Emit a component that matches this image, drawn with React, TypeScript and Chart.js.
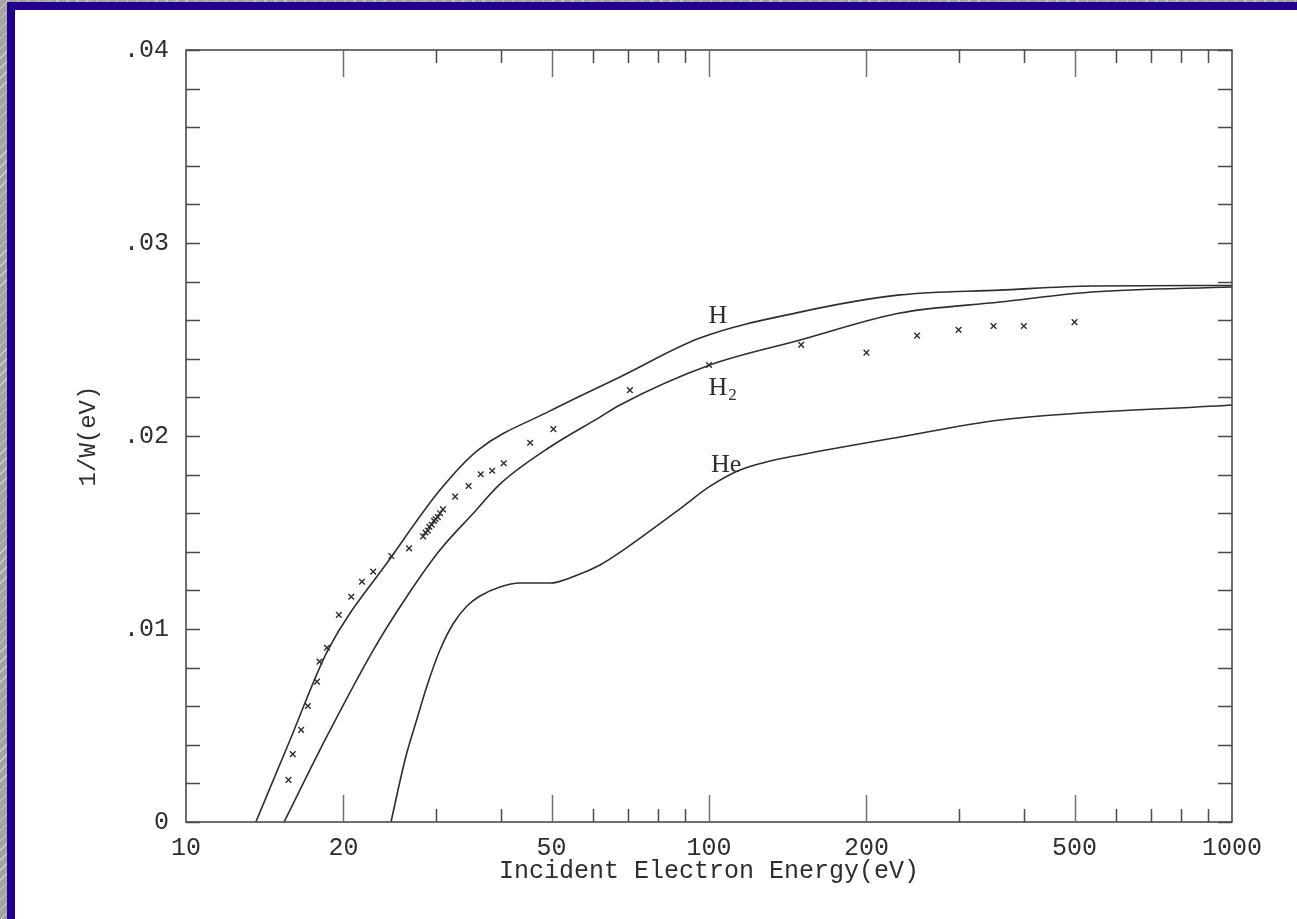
import React, { useEffect, useRef } from "react";
import { Chart, registerables } from "chart.js";

Chart.register(...registerables);

// Axis ticks
const energyTicks = [10, 20, 50, 100, 200, 500, 1000];
const energyTickLabels = ["10", "20", "50", "100", "200", "500", "1000"];
const energyLongTicks = [20, 50, 100, 200, 500];
const energyShortTicks = [30, 40, 60, 70, 80, 90, 300, 400, 600, 700, 800, 900];
const yieldTicks = [0, 0.01, 0.02, 0.03, 0.04];
const yieldTickLabels = ["0", ".01", ".02", ".03", ".04"];
const yieldMinorTicks = [
  0.002, 0.004, 0.006, 0.008, 0.012, 0.014, 0.016, 0.018,
  0.022, 0.024, 0.026, 0.028, 0.032, 0.034, 0.036, 0.038,
];

// Calculated curves: 1/W versus incident electron energy (eV)
const hEnergy = [13.6, 15.81, 18.68, 24.77, 30.59, 36.17, 49.66, 67.57, 96.1, 149.3, 231.8, 360, 540, 1000];
const hYield = [0, 0.00425, 0.00891, 0.01378, 0.0172, 0.01927, 0.0213, 0.02306, 0.02508, 0.02642, 0.02731, 0.02756, 0.02777, 0.0278];

const h2Energy = [15.4, 18.58, 22.81, 26.42, 30.59, 35.43, 39.84, 49.66, 61.88, 67.57, 100.4, 149.3, 231.8, 360, 540, 1000];
const h2Yield = [0, 0.00442, 0.00891, 0.01167, 0.01409, 0.016, 0.01751, 0.01943, 0.02098, 0.02161, 0.02368, 0.02497, 0.02637, 0.02694, 0.02746, 0.02772];

const heEnergy = [
  24.66, 25.43, 26.34, 27.53, 28.89, 30.59, 32.4, 34.45, 36.49, 39.84, 43.52, 49.66,
  55.44, 61.88, 69.08, 77.13, 88.0, 100, 114.6, 130.8, 149.3, 231.8, 360, 1000,
];
const heYield = [
  0, 0.00166, 0.00342, 0.00518, 0.00705, 0.00891, 0.01026, 0.01119, 0.01171, 0.01218, 0.01238, 0.01238,
  0.01275, 0.01332, 0.01415, 0.01508, 0.01622, 0.01736, 0.01824, 0.0187, 0.01902, 0.01995, 0.02083, 0.02161,
];

// Measured values (crosses)
const measuredEnergy = [
  15.7, 16.0, 16.6, 17.1, 17.8, 18.0, 18.6, 19.6, 20.7, 21.7, 22.8, 24.7, 26.7,
  28.4, 28.7, 29.0, 29.2, 29.5, 29.8, 30.0, 30.3, 30.6, 31.0,
  32.7, 34.7, 36.6, 38.5, 40.5, 45.5, 50.4, 70.6, 100, 150, 200, 250, 300, 350, 400, 500,
];
const measuredYield = [
  0.00218, 0.00352, 0.00477, 0.00601, 0.00727, 0.00831, 0.00903, 0.01073, 0.01167, 0.01245, 0.01297, 0.01378, 0.01418,
  0.0148, 0.015, 0.0151, 0.0153, 0.0154, 0.0156, 0.0157, 0.0158, 0.016, 0.0162,
  0.01686, 0.01741, 0.01802, 0.0182, 0.01859, 0.01965, 0.02036, 0.02238, 0.02368, 0.02472, 0.02432, 0.0252, 0.0255, 0.0257, 0.0257, 0.0259,
];

// Curve names placed in data coordinates
const curveNames = ["H", "H", "He"];
const curveNameSubs = ["", "2", ""];
const curveNameEnergy = [104, 104, 107.8];
const curveNameYield = [0.02622, 0.02249, 0.0185];

const INK = "#2e2e2e";
const MONO = '"Liberation Mono", "Courier New", monospace';
const SERIF = '"Liberation Serif", "Times New Roman", serif';

const toPoints = (xs: number[], ys: number[]) => xs.map((x, i) => ({ x, y: ys[i] }));

const frameAndTicks = {
  id: "frameAndTicks",
  afterDraw(chart: any) {
    const { ctx, chartArea } = chart;
    const { left, right, top, bottom } = chartArea;
    const xs = chart.scales.x;
    const ys = chart.scales.y;
    ctx.save();
    ctx.strokeStyle = "#4a4a4a";
    ctx.lineWidth = 1.6;
    ctx.strokeRect(left, top, right - left, bottom - top);

    ctx.lineWidth = 1.5;
    ctx.beginPath();
    [...yieldTicks, ...yieldMinorTicks].forEach((v) => {
      const py = Math.round(ys.getPixelForValue(v)) + 0.5;
      ctx.moveTo(left, py);
      ctx.lineTo(left + 14, py);
      ctx.moveTo(right, py);
      ctx.lineTo(right - 14, py);
    });
    energyShortTicks.forEach((v) => {
      const px = Math.round(xs.getPixelForValue(v)) + 0.5;
      ctx.moveTo(px, bottom);
      ctx.lineTo(px, bottom - 13);
      ctx.moveTo(px, top);
      ctx.lineTo(px, top + 13);
    });
    ctx.stroke();

    ctx.strokeStyle = "#707070";
    ctx.beginPath();
    energyLongTicks.forEach((v) => {
      const px = Math.round(xs.getPixelForValue(v)) + 0.5;
      ctx.moveTo(px, bottom);
      ctx.lineTo(px, bottom - 27);
      ctx.moveTo(px, top);
      ctx.lineTo(px, top + 27);
    });
    ctx.stroke();
    ctx.restore();
  },
};

const curveLabels = {
  id: "curveLabels",
  afterDatasetsDraw(chart: any) {
    const { ctx } = chart;
    const xs = chart.scales.x;
    const ys = chart.scales.y;
    ctx.save();
    ctx.fillStyle = INK;
    ctx.textBaseline = "middle";
    curveNames.forEach((name, i) => {
      const px = xs.getPixelForValue(curveNameEnergy[i]);
      const py = ys.getPixelForValue(curveNameYield[i]);
      ctx.font = `26px ${SERIF}`;
      ctx.textAlign = "center";
      ctx.fillText(name, px, py);
      if (curveNameSubs[i]) {
        const w = ctx.measureText(name).width;
        ctx.font = `17px ${SERIF}`;
        ctx.textAlign = "left";
        ctx.fillText(curveNameSubs[i], px + w / 2 + 1, py + 8);
      }
    });
    ctx.restore();
  },
};

export default function App() {
  const canvasRef = useRef<HTMLCanvasElement | null>(null);

  useEffect(() => {
    const canvas = canvasRef.current;
    if (!canvas) return;
    const lineStyle = {
      borderColor: INK,
      borderWidth: 1.6,
      pointRadius: 0,
      fill: false,
      cubicInterpolationMode: "monotone" as const,
    };
    const chart = new Chart(canvas, {
      type: "line",
      data: {
        datasets: [
          { label: "H", data: toPoints(hEnergy, hYield), ...lineStyle },
          { label: "H2", data: toPoints(h2Energy, h2Yield), ...lineStyle },
          { label: "He", data: toPoints(heEnergy, heYield), ...lineStyle },
          {
            type: "scatter",
            label: "measured",
            data: toPoints(measuredEnergy, measuredYield),
            showLine: false,
            pointStyle: "crossRot",
            pointRadius: 4,
            borderColor: INK,
            borderWidth: 1.4,
          } as any,
        ],
      },
      options: {
        responsive: false,
        animation: false,
        devicePixelRatio: 1,
        layout: { padding: { left: 0, right: 65, top: 50, bottom: 0 } },
        plugins: { legend: { display: false }, tooltip: { enabled: false } },
        scales: {
          x: {
            type: "logarithmic",
            position: "bottom",
            min: 10,
            max: 1000,
            afterFit: (s: any) => {
              s.height = 97;
            },
            afterBuildTicks: (s: any) => {
              s.ticks = energyTicks.map((value) => ({ value }));
            },
            grid: { display: false },
            border: { display: false },
            ticks: {
              autoSkip: false,
              maxRotation: 0,
              padding: 3,
              color: INK,
              font: { family: MONO, size: 25 },
              callback: (v: any) => energyTickLabels[energyTicks.indexOf(Number(v))] ?? "",
            },
            title: {
              display: true,
              text: "Incident Electron Energy(eV)",
              color: INK,
              font: { family: MONO, size: 25 },
              padding: { top: 0, bottom: 33 },
            },
          },
          y: {
            type: "linear",
            position: "left",
            min: 0,
            max: 0.04,
            afterFit: (s: any) => {
              s.width = 186;
            },
            afterBuildTicks: (s: any) => {
              s.ticks = yieldTicks.map((value) => ({ value }));
            },
            grid: { display: false },
            border: { display: false },
            ticks: {
              padding: 9,
              color: INK,
              font: { family: MONO, size: 25 },
              callback: (v: any) => yieldTickLabels[yieldTicks.indexOf(Number(v))] ?? "",
            },
            title: {
              display: true,
              text: "1/W(eV)",
              color: INK,
              font: { family: MONO, size: 24 },
              padding: { top: 74, bottom: 0 },
            },
          },
        },
      },
      plugins: [frameAndTicks, curveLabels],
    });
    return () => chart.destroy();
  }, []);

  return (
    <div
      style={{
        position: "fixed",
        left: 0,
        top: 0,
        width: 1297,
        height: 919,
        overflow: "hidden",
        background: "repeating-linear-gradient(135deg, #a4a4a4 0px, #a4a4a4 6px, #cfcfcf 6px, #cfcfcf 7px)",
      }}
    >
      <div style={{ position: "absolute", left: 7, top: 2, right: 0, bottom: 0, background: "#23008c" }} />
      <div style={{ position: "absolute", left: 15, top: 10, right: 0, bottom: 0, background: "#ffffff" }} />
      <canvas
        ref={canvasRef}
        width={1297}
        height={919}
        style={{ position: "absolute", left: 0, top: 0, width: 1297, height: 919 }}
      />
    </div>
  );
}
